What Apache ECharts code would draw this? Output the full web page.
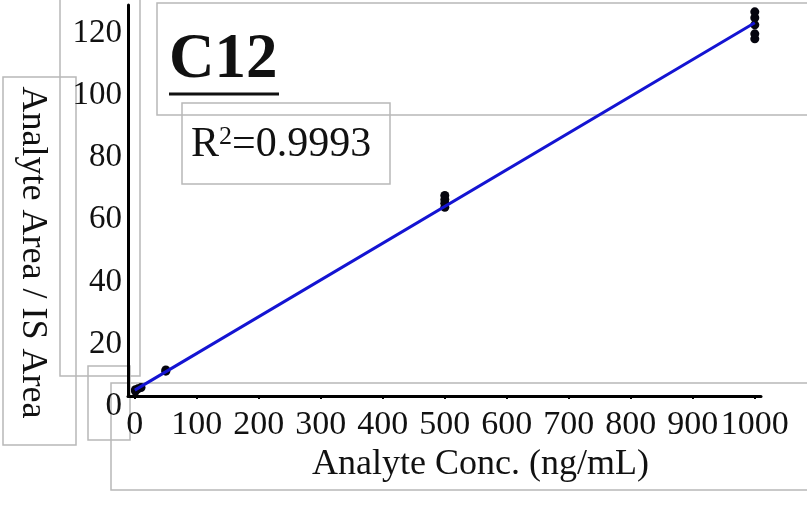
<!DOCTYPE html>
<html>
<head>
<meta charset="utf-8">
<script src="https://cdn.jsdelivr.net/npm/echarts@6/dist/echarts.min.js"></script>
<style>
  html, body { margin: 0; padding: 0; background: #fff; }
  #chart { width: 807px; height: 517px; }
</style>
</head>
<body>
<div id="chart"></div>
<script>
// Calibration points for C12 (concentration in ng/mL vs. area ratio)
var concX = [1, 1, 5, 10, 50, 50, 500, 500, 500, 500, 1000, 1000, 1000, 1000, 1000];
var areaRatio = [1.6, 2.0, 2.3, 2.7, 8.0, 8.4, 60.8, 62.1, 63.3, 64.6, 115.1, 116.7, 119.6, 121.9, 123.8];

// Fitted calibration line, end points
var fitX = [0, 1000];
var fitY = [1.9, 120.3];

var xTicks = [0, 100, 200, 300, 400, 500, 600, 700, 800, 900, 1000];
var yTicks = [0, 20, 40, 60, 80, 100, 120];

var compoundName = 'C12';
var rSquared = '0.9993';

var serif = 'Liberation Serif';
var ink = '#111';
var boxStroke = '#b8b8b8';

function box(x, y, w, h) {
  return {
    type: 'rect',
    shape: { x: x, y: y, width: w, height: h },
    style: { fill: 'none', stroke: boxStroke, lineWidth: 1.5 },
    silent: true,
    z: 0
  };
}

function plain(v) { return String(v); }

var chart = echarts.init(document.getElementById('chart'), null, { renderer: 'canvas' });

chart.setOption({
  animation: false,
  backgroundColor: '#fff',
  title: [
    {
      text: compoundName,
      left: 169,
      top: 29,
      padding: 0,
      textStyle: { fontFamily: serif, fontSize: 63, fontWeight: 'bold', color: ink }
    },
    {
      text: '{r|R}{s|2}{r|=' + rSquared + '}',
      left: 191,
      top: 124,
      padding: 0,
      textStyle: {
        rich: {
          r: { fontFamily: serif, fontSize: 42, fontWeight: 'normal', color: ink },
          s: { fontFamily: serif, fontSize: 26, fontWeight: 'normal', color: ink, verticalAlign: 'top', padding: [0, 0, 14, 0] }
        }
      }
    }
  ],
  grid: { left: 128, right: 46, top: 5, bottom: 121 },
  xAxis: {
    type: 'value',
    min: -11,
    max: 1010,
    name: 'Analyte Conc. (ng/mL)',
    nameLocation: 'middle',
    nameGap: 42,
    nameTextStyle: { fontFamily: serif, fontSize: 36, color: ink, padding: [0, 0, 0, 72] },
    axisLine: { lineStyle: { color: '#000', width: 3 } },
    axisTick: { show: true, length: 3, lineStyle: { color: '#000', width: 2 }, customValues: xTicks },
    axisLabel: {
      fontFamily: serif, fontSize: 34, color: ink, margin: 12, formatter: plain,
      customValues: xTicks, hideOverlap: false, showMinLabel: true, showMaxLabel: true
    },
    splitLine: { show: false }
  },
  yAxis: {
    type: 'value',
    min: 0,
    max: 126,
    name: 'Analyte Area / IS Area',
    nameLocation: 'middle',
    nameRotate: -90,
    nameGap: 78,
    nameTextStyle: { fontFamily: serif, fontSize: 36, color: ink, padding: [0, 0, 0, 104] },
    axisLine: { show: true, onZero: false, lineStyle: { color: '#000', width: 3 } },
    axisTick: { show: false },
    axisLabel: {
      fontFamily: serif, fontSize: 33, color: ink, margin: 6, formatter: plain,
      verticalAlign: 'top', lineHeight: 20, customValues: yTicks
    },
    splitLine: { show: false }
  },
  graphic: [
    box(60, -5, 80, 381),
    box(3, 77, 73, 368),
    box(88, 366, 42, 74),
    box(111, 383, 710, 107),
    box(157, 3, 670, 112),
    box(182, 103, 208, 81),
    {
      type: 'line',
      shape: { x1: 169, y1: 94, x2: 279, y2: 94 },
      style: { stroke: ink, lineWidth: 3 },
      silent: true
    }
  ],
  series: [
    {
      type: 'line',
      data: fitX.map(function (x, i) { return [x, fitY[i]]; }),
      showSymbol: false,
      lineStyle: { color: '#1414d2', width: 3 },
      z: 3
    },
    {
      type: 'scatter',
      data: concX.map(function (x, i) { return [x, areaRatio[i]]; }),
      symbol: 'circle',
      symbolSize: 9,
      itemStyle: { color: '#05050f', opacity: 1 },
      z: 2
    }
  ]
});
</script>
</body>
</html>
